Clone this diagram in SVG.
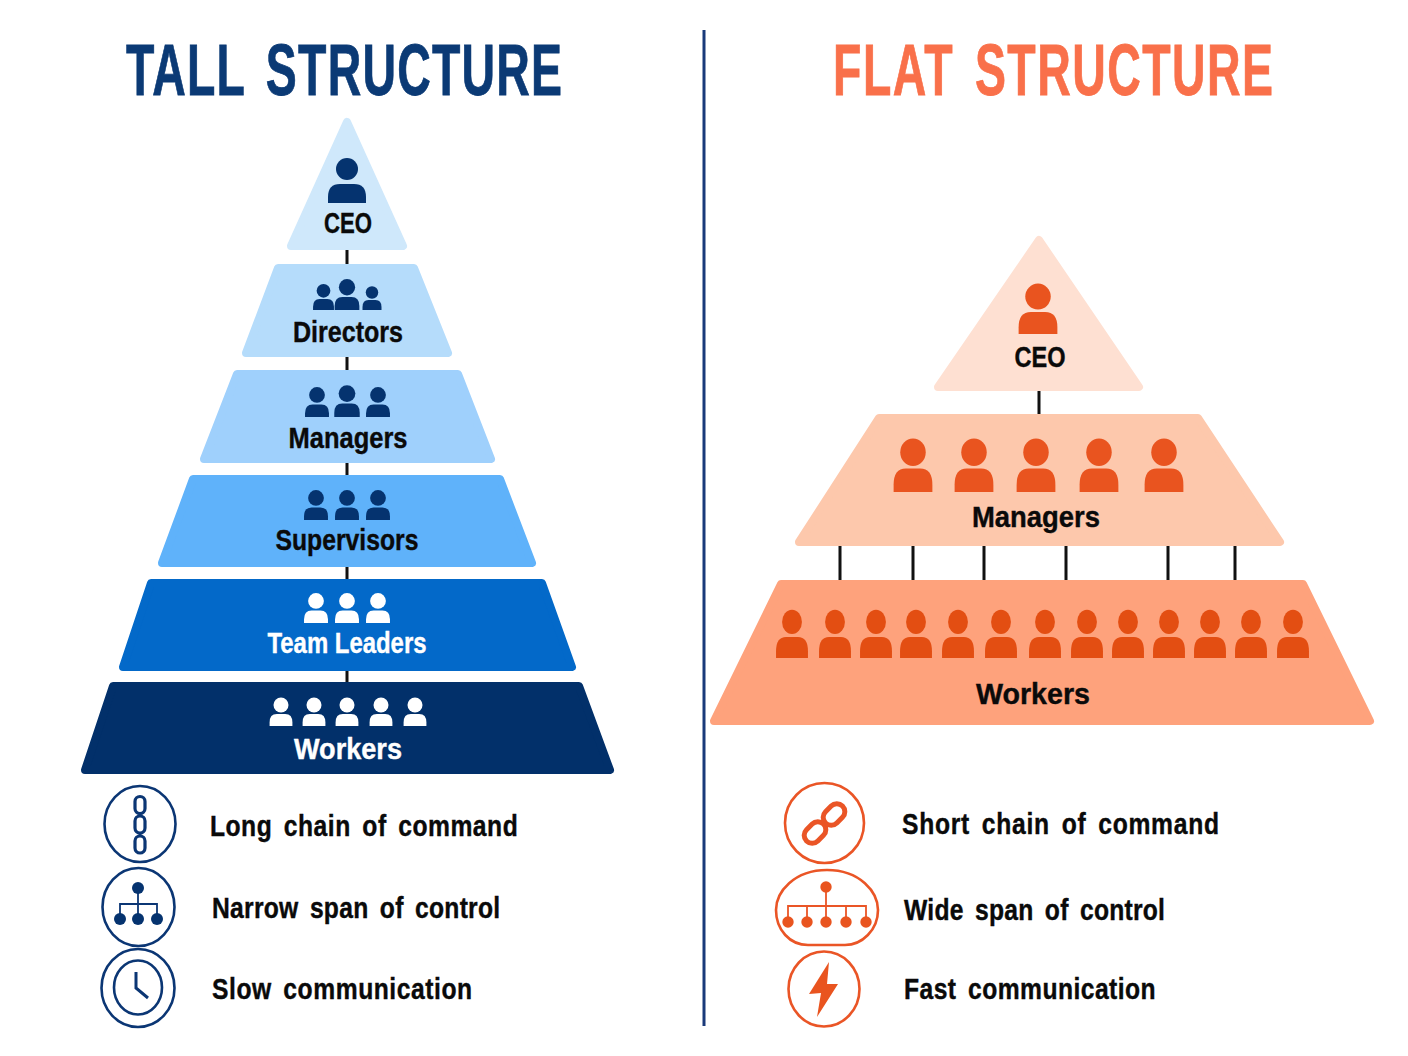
<svg xmlns="http://www.w3.org/2000/svg" width="1408" height="1056" viewBox="0 0 1408 1056">
<style>
text{font-family:"Liberation Sans",Arial,sans-serif;font-weight:700;text-anchor:middle;fill:#0a0a0a;stroke:#0a0a0a;stroke-width:.4}
.title{font-size:72px;word-spacing:10px;stroke-width:.8}
.lab{font-size:29px}
.note{font-size:29px;text-anchor:start;word-spacing:5px}
.layer{stroke-width:8;stroke-linejoin:round}
.conn{stroke:#111;stroke-width:3;fill:none}
.nv{fill:#05336f}.ow{fill:#e9541f}
.ring-n{fill:none;stroke:#0b3674;stroke-width:2.6}
.ring-o{fill:none;stroke:#ea5526;stroke-width:2.6}
.ln-n{fill:none;stroke:#0b3674;stroke-width:1.8}
.ln-o{fill:none;stroke:#ea5526;stroke-width:1.8}
</style>
<defs>
<g id="p"><circle cx="0" cy="-34" r="11"/><path d="M-19 0V-6Q-19 -19 -7 -19H7Q19 -19 19 -6V0Z"/></g>
<g id="s"><circle cx="0" cy="-35" r="12.500"/><path d="M-19 0V-6Q-19 -20 -7 -20H7Q19 -20 19 -6V0Z"/></g>
<g id="q"><ellipse cx="0" cy="-39" rx="12.500" ry="13.500"/><path d="M-19 0V-7Q-19 -23 -7 -23H7Q19 -23 19 -7V0Z"/></g>
<g id="r"><ellipse cx="0" cy="-43" rx="11.800" ry="14.500"/><path d="M-19 0V-8Q-19 -25 -7 -25H7Q19 -25 19 -8V0Z"/></g>
</defs>
<rect width="1408" height="1056" fill="#fff"/>
<g id="titles">
<text class="title" transform="translate(344,95) scale(.645,1)" style="fill:#0b3a75;stroke:#0b3a75" textLength="676" lengthAdjust="spacing">TALL STRUCTURE</text>
<text class="title" transform="translate(1053,95) scale(.645,1)" style="fill:#f9704a;stroke:#f9704a" textLength="682" lengthAdjust="spacing">FLAT STRUCTURE</text>
</g>
<line id="divider" x1="704" y1="30" x2="704" y2="1026" stroke="#1a3a7a" stroke-width="3"/>
<g id="connectors">
<path class="conn" d="M347 250V264M347 357V370M347 463V475M347 567V579M347 671V682"/>
<path class="conn" d="M1039 391V414M840 546V580M913 546V580M984 546V580M1066 546V580M1168 546V580M1235 546V580"/>
</g>
<g id="tall-ceo">
<polygon class="layer" fill="#cfe8fb" stroke="#cfe8fb" points="347,122 403,246 291,246"/>
<use href="#p" class="nv" transform="translate(347,203)"/>
<text class="lab" x="348" y="233" textLength="48" lengthAdjust="spacingAndGlyphs">CEO</text>
</g>
<g id="tall-directors">
<polygon class="layer" fill="#b5dcfb" stroke="#b5dcfb" points="278,268 414,268 448,353 246,353"/>
<g class="nv"><use href="#s" transform="translate(323.500,310) scale(.55)"/><use href="#s" transform="translate(347,310) scale(.65)"/><use href="#s" transform="translate(372,310) scale(.5)"/></g>
<text class="lab" x="348" y="342" textLength="110" lengthAdjust="spacingAndGlyphs">Directors</text>
</g>
<g id="tall-managers">
<polygon class="layer" fill="#9fd0fc" stroke="#9fd0fc" points="237,374 458,374 491,459 204,459"/>
<g class="nv"><use href="#s" transform="translate(317,417) scale(.63)"/><use href="#s" transform="translate(347,417) scale(.67)"/><use href="#s" transform="translate(378,417) scale(.63)"/></g>
<text class="lab" x="348" y="448" textLength="119" lengthAdjust="spacingAndGlyphs">Managers</text>
</g>
<g id="tall-supervisors">
<polygon class="layer" fill="#5fb2fa" stroke="#5fb2fa" points="193,479 500,479 532,563 162,563"/>
<g class="nv"><use href="#s" transform="translate(316,520) scale(.63)"/><use href="#s" transform="translate(347,520) scale(.63)"/><use href="#s" transform="translate(378,520) scale(.63)"/></g>
<text class="lab" x="347" y="550" textLength="143" lengthAdjust="spacingAndGlyphs">Supervisors</text>
</g>
<g id="tall-team-leaders">
<polygon class="layer" fill="#0369c9" stroke="#0369c9" points="151,583 542,583 572,667 123,667"/>
<g fill="#fff"><use href="#s" transform="translate(316,623) scale(.63)"/><use href="#s" transform="translate(347,623) scale(.63)"/><use href="#s" transform="translate(378,623) scale(.63)"/></g>
<text class="lab" style="fill:#fff;stroke:#fff" x="347" y="653" textLength="159" lengthAdjust="spacingAndGlyphs">Team Leaders</text>
</g>
<g id="tall-workers">
<polygon class="layer" fill="#02306a" stroke="#02306a" points="113,686 579,686 610,770 85,770"/>
<g fill="#fff"><use href="#s" transform="translate(281,726) scale(.6)"/><use href="#s" transform="translate(314,726) scale(.6)"/><use href="#s" transform="translate(347,726) scale(.6)"/><use href="#s" transform="translate(381,726) scale(.6)"/><use href="#s" transform="translate(415,726) scale(.6)"/></g>
<text class="lab" style="fill:#fff;stroke:#fff" x="348" y="759" textLength="108" lengthAdjust="spacingAndGlyphs">Workers</text>
</g>
<g id="flat-ceo">
<polygon class="layer" fill="#fee0d2" stroke="#fee0d2" points="1039,240 1139,387 938,387"/>
<use href="#q" class="ow" transform="translate(1038,334) scale(1.02,.96)"/>
<text class="lab" x="1040" y="367" textLength="51" lengthAdjust="spacingAndGlyphs">CEO</text>
</g>
<g id="flat-managers">
<polygon class="layer" fill="#fdc8ac" stroke="#fdc8ac" points="879,418 1198,418 1280,542 799,542"/>
<g class="ow"><use href="#q" transform="translate(913,492) scale(1.02)"/><use href="#q" transform="translate(974,492) scale(1.02)"/><use href="#q" transform="translate(1036,492) scale(1.02)"/><use href="#q" transform="translate(1099,492) scale(1.02)"/><use href="#q" transform="translate(1164,492) scale(1.02)"/></g>
<text class="lab" x="1036" y="527" textLength="128" lengthAdjust="spacingAndGlyphs">Managers</text>
</g>
<g id="flat-workers">
<polygon class="layer" fill="#fea27c" stroke="#fea27c" points="781,584 1303,584 1370,721 714,721"/>
<g fill="#e34e12"><use href="#r" transform="translate(792,658) scale(.84)"/><use href="#r" transform="translate(835,658) scale(.84)"/><use href="#r" transform="translate(876,658) scale(.84)"/><use href="#r" transform="translate(916,658) scale(.84)"/><use href="#r" transform="translate(958,658) scale(.84)"/><use href="#r" transform="translate(1001,658) scale(.84)"/><use href="#r" transform="translate(1045,658) scale(.84)"/><use href="#r" transform="translate(1087,658) scale(.84)"/><use href="#r" transform="translate(1128,658) scale(.84)"/><use href="#r" transform="translate(1169,658) scale(.84)"/><use href="#r" transform="translate(1210,658) scale(.84)"/><use href="#r" transform="translate(1251,658) scale(.84)"/><use href="#r" transform="translate(1293,658) scale(.84)"/></g>
<text class="lab" x="1033" y="704" textLength="114" lengthAdjust="spacingAndGlyphs">Workers</text>
</g>
<g id="note-long-chain">
<ellipse class="ring-n" cx="140" cy="824" rx="35.500" ry="38"/>
<g fill="none" stroke="#0b3674" stroke-width="3.200"><rect x="135" y="796.500" width="10" height="17" rx="5"/><rect x="135" y="816" width="10" height="17" rx="5"/><rect x="135" y="836" width="10" height="17" rx="5"/></g>
<path d="M140 813V817M140 832V837" stroke="#0b3674" stroke-width="3"/>
<text class="note" transform="translate(210,836) scale(.85,1)" textLength="362" lengthAdjust="spacing">Long chain of command</text>
</g>
<g id="note-narrow-span">
<ellipse class="ring-n" cx="138.500" cy="907" rx="36" ry="39"/>
<path class="ln-n" d="M138 889V917M120 918V904H157V918"/>
<g class="nv"><circle cx="138" cy="888" r="6"/><circle cx="120" cy="919" r="6"/><circle cx="138" cy="919" r="6"/><circle cx="157" cy="919" r="6"/></g>
<text class="note" transform="translate(212,918) scale(.85,1)" textLength="339" lengthAdjust="spacing">Narrow span of control</text>
</g>
<g id="note-slow">
<ellipse class="ring-n" cx="138" cy="988" rx="36.500" ry="39"/>
<ellipse class="ring-n" cx="138" cy="987.500" rx="24" ry="27"/>
<path d="M136 972V988L148 998" fill="none" stroke="#0b3674" stroke-width="3"/>
<text class="note" transform="translate(212,999) scale(.85,1)" textLength="306" lengthAdjust="spacing">Slow communication</text>
</g>
<g id="note-short-chain">
<ellipse class="ring-o" cx="824.500" cy="823" rx="39.500" ry="40"/>
<g fill="none" stroke="#ea5526" stroke-width="5"><rect x="-12" y="-8" width="24" height="16" rx="8" transform="translate(815,832.500) rotate(-45)"/><rect x="-12" y="-8" width="24" height="16" rx="8" transform="translate(834,814.500) rotate(-45)"/></g>
<text class="note" transform="translate(902,834) scale(.85,1)" textLength="373" lengthAdjust="spacing">Short chain of command</text>
</g>
<g id="note-wide-span">
<path class="ring-o" d="M827 870C860 870 878 892 878 910C878 930 862 945 845 945H808C790 945 776 930 776 910C776 892 794 870 827 870Z"/>
<path class="ln-o" d="M826 886V921M788 922V906H866V922M807 922V906M846 922V906"/>
<g class="ow"><circle cx="826" cy="887" r="5.700"/><circle cx="788" cy="922" r="5.700"/><circle cx="807" cy="922" r="5.700"/><circle cx="826" cy="922" r="5.700"/><circle cx="846" cy="922" r="5.700"/><circle cx="866" cy="922" r="5.700"/></g>
<text class="note" transform="translate(904,920) scale(.85,1)" textLength="307" lengthAdjust="spacing">Wide span of control</text>
</g>
<g id="note-fast">
<ellipse class="ring-o" cx="824" cy="989" rx="35.500" ry="37.500"/>
<polygon class="ow" points="829,962 809,994 821,993 817,1017 838,984 827,984"/>
<text class="note" transform="translate(904,999) scale(.85,1)" textLength="296" lengthAdjust="spacing">Fast communication</text>
</g>
</svg>
